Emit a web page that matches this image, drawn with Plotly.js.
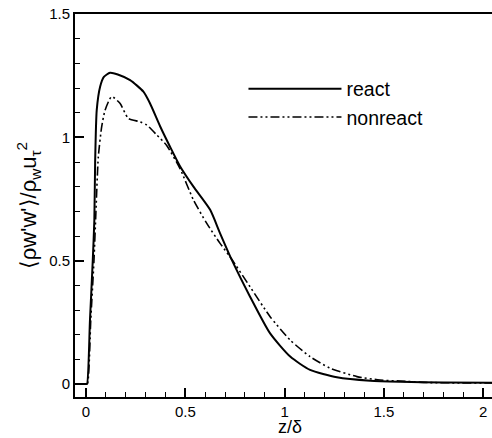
<!DOCTYPE html>
<html>
<head>
<meta charset="utf-8">
<script src="https://cdn.plot.ly/plotly-3.0.1.min.js"></script>
<style>html,body{margin:0;padding:0;background:#fff;}#chart{width:492px;height:438px;}</style>
</head>
<body>
<div id="chart"></div>
<script>
// z/delta positions and normalized Reynolds stress <rho w'w'>/(rho_w u_tau^2)
const zReact = [-0.05, 0.0, 0.005, 0.02, 0.034, 0.042, 0.046, 0.054, 0.071, 0.09, 0.121, 0.16, 0.222, 0.289, 0.322, 0.373, 0.423, 0.474, 0.541, 0.625, 0.675, 0.734, 0.826, 0.927, 1.028, 1.128, 1.263, 1.431, 1.582, 1.8, 2.05];
const react = [0, 0, 0, 0.26, 0.5, 0.665, 0.9, 1.11, 1.205, 1.245, 1.262, 1.255, 1.232, 1.185, 1.138, 1.045, 0.962, 0.882, 0.8, 0.706, 0.611, 0.503, 0.354, 0.205, 0.111, 0.057, 0.027, 0.013, 0.009, 0.006, 0.005];

const zNonreact = [-0.05, 0.0, 0.007, 0.024, 0.04, 0.05, 0.062, 0.079, 0.096, 0.129, 0.171, 0.213, 0.272, 0.306, 0.356, 0.407, 0.474, 0.541, 0.608, 0.675, 0.725, 0.826, 0.927, 1.028, 1.128, 1.229, 1.364, 1.48, 1.582, 1.72, 2.05];
const nonreact = [0, 0, 0, 0.26, 0.5, 0.7, 0.921, 1.043, 1.11, 1.165, 1.138, 1.077, 1.063, 1.05, 1.01, 0.966, 0.872, 0.746, 0.651, 0.57, 0.516, 0.394, 0.273, 0.178, 0.111, 0.064, 0.03, 0.016, 0.012, 0.006, 0.004];

const seriesNames = ['react', 'nonreact'];
const xTicks = [0, 0.5, 1, 1.5, 2];
const xTickText = ['0', '0.5', '1', '1.5', '2'];
const yTicks = [0, 0.5, 1, 1.5];
const yTickText = ['0', '0.5', '1', '1.5'];
const xTitle = 'z/δ';
const yTitle = "⟨ρw'w'⟩/ρ<sub>w</sub>u<sub>τ</sub><sup>2</sup>";

const FONT = 'Liberation Sans, Arial, Helvetica, sans-serif';

const traces = [
  {x: zReact, y: react, name: seriesNames[0], mode: 'lines', type: 'scatter',
   line: {color: '#000', width: 2, shape: 'spline', smoothing: 0.6}},
  {x: zNonreact, y: nonreact, name: seriesNames[1], mode: 'lines', type: 'scatter',
   line: {color: '#000', width: 1.6, dash: '9px,3px,2px,3px,2px,3px', shape: 'spline', smoothing: 0.6}}
];

const layout = {
  width: 492, height: 438,
  margin: {l: 75, r: 0, t: 14, b: 41},
  paper_bgcolor: '#fff', plot_bgcolor: '#fff',
  font: {family: FONT, color: '#000', size: 15},
  showlegend: true,
  legend: {x: 0.404, y: 0.855, xanchor: 'left', yanchor: 'top', bgcolor: 'rgba(0,0,0,0)',
           font: {family: FONT, size: 19.5, color: '#000'}, itemwidth: 93, tracegroupgap: 0},
  xaxis: {
    range: [-0.0554, 2.044], showgrid: false, zeroline: false,
    showline: true, linecolor: '#000', linewidth: 2, mirror: true,
    ticks: 'inside', ticklen: 9, tickwidth: 2, tickcolor: '#000',
    tickvals: xTicks, ticktext: xTickText,
    minor: {dtick: 0.1, tick0: 0, ticks: 'inside', ticklen: 5, tickwidth: 1, tickcolor: '#000', showgrid: false},
    tickfont: {family: FONT, size: 15, color: '#000'}
  },
  yaxis: {
    range: [-0.0527, 1.5], showgrid: false, zeroline: false,
    showline: true, linecolor: '#000', linewidth: 2, mirror: false,
    ticks: 'inside', ticklen: 9, tickwidth: 2, tickcolor: '#000',
    tickvals: yTicks, ticktext: yTickText,
    minor: {dtick: 0.1, tick0: 0, ticks: 'inside', ticklen: 5, tickwidth: 1, tickcolor: '#000', showgrid: false},
    tickfont: {family: FONT, size: 15, color: '#000'},
    title: {text: yTitle, font: {family: FONT, size: 22, color: '#000'}, standoff: 6}
  },
  annotations: [
    {text: xTitle, xref: 'paper', yref: 'paper', x: 0.516, y: -0.107,
     xanchor: 'center', yanchor: 'bottom', showarrow: false, borderpad: 0,
     font: {family: FONT, size: 18, color: '#000'}}
  ]
};

Plotly.newPlot('chart', traces, layout, {displayModeBar: false, staticPlot: true});
</script>
</body>
</html>
